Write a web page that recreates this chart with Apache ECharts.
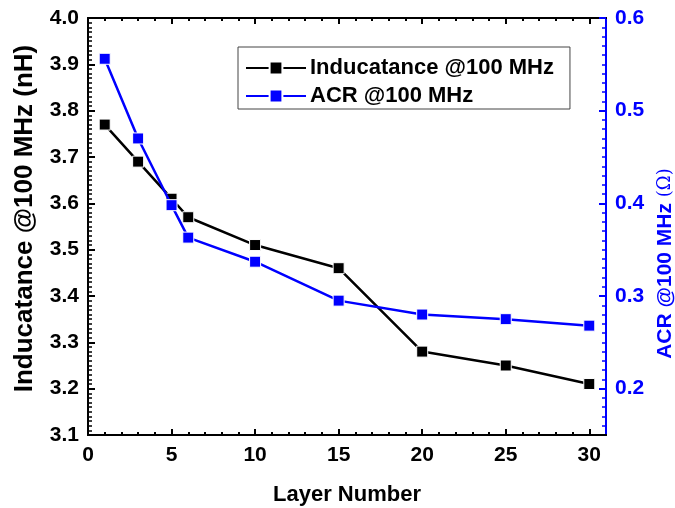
<!DOCTYPE html>
<html>
<head>
<meta charset="utf-8">
<script src="https://cdn.jsdelivr.net/npm/echarts@6/dist/echarts.min.js"></script>
<style>html,body{margin:0;padding:0;background:#fff;}#chart{width:675px;height:508px;}</style>
</head>
<body>
<div id="chart"></div>
<script>
const layers = [1, 3, 5, 6, 10, 15, 20, 25, 30];
const inductance = [3.77, 3.69, 3.61, 3.57, 3.51, 3.46, 3.28, 3.25, 3.21];
const acr = [0.556, 0.470, 0.398, 0.363, 0.337, 0.295, 0.280, 0.275, 0.268];
const xMajorTicks = [0, 5, 10, 15, 20, 25, 30];
const xMinorTicks = [1,2,3,4,6,7,8,9,11,12,13,14,16,17,18,19,21,22,23,24,26,27,28,29];
const leftMajorTicks = [3.1, 3.2, 3.3, 3.4, 3.5, 3.6, 3.7, 3.8, 3.9, 4.0];
const rightMajorTicks = [0.2, 0.3, 0.4, 0.5, 0.6];
const leftMinorTicks = [];
for (let i = 311; i < 400; i++) { if (i % 10 !== 0) leftMinorTicks.push(i / 100); }
const rightMinorTicks = [];
for (let i = 16; i < 60; i++) { if (i % 10 !== 0) rightMinorTicks.push(i / 100); }

const FONT = 'Liberation Sans';
const BLUE = '#0000FF';
const chart = echarts.init(document.getElementById('chart'));
const labelStyle = { fontFamily: FONT, fontWeight: 'bold', fontSize: 21, color: '#000' };

function xAx(pos, ticks, len, labels, extra) {
  return Object.assign({
    type: 'value', position: pos, min: 0, max: 31,
    splitLine: { show: false },
    axisLine: { show: true, onZero: false, lineStyle: { color: '#000', width: 2 } },
    axisTick: { show: true, inside: true, length: len, customValues: ticks, lineStyle: { color: '#000', width: 2 } },
    axisLabel: labels ? Object.assign({ show: true, customValues: ticks, margin: 10 }, labelStyle) : { show: false }
  }, extra || {});
}
function yAx(pos, min, max, color, ticks, len, width, labels, extra) {
  return Object.assign({
    type: 'value', position: pos, min: min, max: max,
    splitLine: { show: false },
    axisLine: { show: labels, onZero: false, lineStyle: { color: color, width: 2 } },
    axisTick: { show: true, inside: true, length: len, customValues: ticks, lineStyle: { color: color, width: width } },
    axisLabel: labels ? Object.assign({}, labelStyle, { color: color, margin: 9, customValues: ticks, formatter: v => v.toFixed(1) }) : { show: false }
  }, extra || {});
}

chart.setOption({
  animation: false,
  backgroundColor: '#fff',
  grid: { left: 88, right: 69, top: 18, bottom: 73, containLabel: false, outerBoundsMode: 'none' },
  legend: {
    orient: 'vertical', left: 238, top: 47,
    padding: [10, 16, 2, 7],
    backgroundColor: '#fff', borderColor: '#444', borderWidth: 1, borderRadius: 0,
    itemWidth: 60, itemHeight: 16, itemGap: 6,
    textStyle: { fontFamily: FONT, fontWeight: 'bold', fontSize: 22, color: '#000', padding: [0, 0, 0, -1] },
    data: ['Inducatance @100 MHz', 'ACR @100 MHz']
  },
  xAxis: [
    xAx('bottom', xMajorTicks, 6, true, {
      name: 'Layer Number', nameLocation: 'middle', nameGap: 49,
      nameTextStyle: { fontFamily: FONT, fontWeight: 'bold', fontSize: 22, color: '#000' }
    }),
    xAx('bottom', xMinorTicks, 3, false),
    xAx('top', xMajorTicks, 6, false),
    xAx('top', xMinorTicks, 3, false)
  ],
  yAxis: [
    yAx('left', 3.1, 4.0, '#000', leftMajorTicks, 7, 2, true, {
      name: 'Inducatance @100 MHz (nH)', nameLocation: 'middle', nameGap: 50, nameRotate: 90,
      nameTextStyle: { fontFamily: FONT, fontWeight: 'bold', fontSize: 26, color: '#000', padding: [0, 0, 0, 16] }
    }),
    yAx('right', 0.15, 0.6, BLUE, rightMajorTicks, 7, 2, true, {
      name: '{b|ACR @100 MHz }{o|(Ω)}', nameLocation: 'middle', nameGap: 49, nameRotate: 90,
      nameTextStyle: {
        color: BLUE, padding: [0, 74, 0, 0],
        rich: {
          b: { fontFamily: FONT, fontWeight: 'bold', fontSize: 21, color: BLUE },
          o: { fontFamily: 'DejaVu Serif', fontWeight: 'normal', fontSize: 18, color: BLUE }
        }
      }
    }),
    yAx('left', 3.1, 4.0, '#000', leftMinorTicks, 4, 1.5, false),
    yAx('right', 0.15, 0.6, BLUE, rightMinorTicks, 4, 1.5, false)
  ],
  series: [
    {
      name: 'Inducatance @100 MHz', type: 'line', xAxisIndex: 0, yAxisIndex: 0,
      data: layers.map((x, i) => [x, inductance[i]]),
      symbol: 'rect', symbolSize: 11, z: 3,
      lineStyle: { color: '#000', width: 2.5 },
      itemStyle: { color: '#000', borderColor: '#fff', borderWidth: 1 }
    },
    {
      name: 'ACR @100 MHz', type: 'line', xAxisIndex: 0, yAxisIndex: 1,
      data: layers.map((x, i) => [x, acr[i]]),
      symbol: 'rect', symbolSize: 11, z: 4,
      lineStyle: { color: BLUE, width: 2.5 },
      itemStyle: { color: BLUE, borderColor: '#fff', borderWidth: 1 }
    }
  ]
});
</script>
</body>
</html>
